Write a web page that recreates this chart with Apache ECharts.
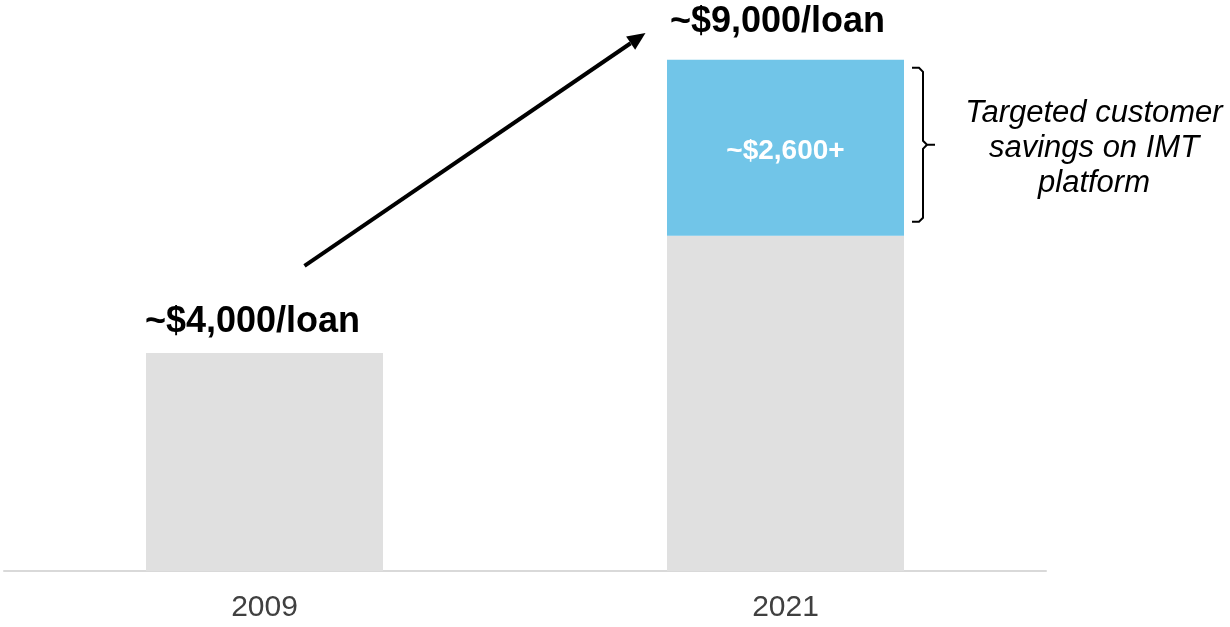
<!DOCTYPE html>
<html>
<head>
<meta charset="utf-8">
<script src="https://cdn.jsdelivr.net/npm/echarts@6/dist/echarts.min.js"></script>
<style>
html, body { margin: 0; padding: 0; background: #fff; }
#chart { width: 1230px; height: 627px; }
</style>
</head>
<body>
<div id="chart"></div>
<script>
// data (bars are not drawn to scale in the original)
var years = ['2009', '2021'];
var baseValues = [4000, 6150];
var savingsValues = [null, 3230];
var topLabels = ['~$4,000/loan', '~$9,000/loan'];
var savingsLabel = '~$2,600+';
var noteLines = ['Targeted customer', 'savings on IMT', 'platform'];

var FONT = '"Liberation Sans", Arial, sans-serif';
var chart = echarts.init(document.getElementById('chart'));

var totals = baseValues.map(function (v, i) { return v + (savingsValues[i] || 0); });
var labelDist = [13, 20];
var labelDx = [-12, -8];

// invisible bars the height of each stack, only used to carry the top labels
var totalData = totals.map(function (v, i) {
  return {
    value: v,
    label: { distance: labelDist[i], offset: [labelDx[i], 0], formatter: topLabels[i] }
  };
});

chart.setOption({
  animation: false,
  grid: { left: 4, right: 184, top: 26, bottom: 56 },
  xAxis: {
    type: 'category',
    data: years,
    axisTick: { show: false },
    axisLine: { lineStyle: { color: '#d9d9d9', width: 2 } },
    axisLabel: {
      margin: 22,
      color: '#404040',
      fontFamily: FONT,
      fontSize: 30
    }
  },
  yAxis: {
    type: 'value',
    min: 0,
    max: 10000,
    show: false,
    splitLine: { show: false }
  },
  series: [
    {
      name: 'base',
      type: 'bar',
      stack: 'total',
      barWidth: 237,
      itemStyle: { color: '#e0e0e0' },
      data: baseValues
    },
    {
      name: 'savings',
      type: 'bar',
      stack: 'total',
      barWidth: 237,
      itemStyle: { color: '#71c5e8' },
      label: {
        show: true,
        position: 'inside',
        offset: [0, 3],
        formatter: savingsLabel,
        color: '#fff',
        fontFamily: FONT,
        fontWeight: 'bold',
        fontSize: 28
      },
      data: savingsValues
    },
    {
      name: 'total',
      type: 'bar',
      barWidth: 237,
      barGap: '-100%',
      silent: true,
      itemStyle: { color: 'rgba(0,0,0,0)' },
      label: {
        show: true,
        position: 'top',
        color: '#000',
        fontFamily: FONT,
        fontWeight: 'bold',
        fontSize: 36
      },
      data: totalData
    }
  ]
});

// annotations placed from the axes
function px(cat, val) {
  return chart.convertToPixel({ xAxisIndex: 0, yAxisIndex: 0 }, [cat, val]);
}

var p0 = px(0, 5600);
var p1 = px(1, 9870);
var x0 = p0[0] + 40, y0 = p0[1];
var x1 = p1[0] - 140, y1 = p1[1];
var ang = Math.atan2(y1 - y0, x1 - x0);
var headLen = 18, headW = 8;
var hx = x1 - headLen * Math.cos(ang), hy = y1 - headLen * Math.sin(ang);
var nx = -Math.sin(ang) * headW, ny = Math.cos(ang) * headW;

// curly bracket next to the savings segment
var bTop = px(1, totals[1])[1] + 8;
var bBot = px(1, baseValues[1])[1] - 14;
var bMid = (bTop + bBot) / 2;
var bx0 = px(1, 0)[0] + 237 / 2 + 8;
var bx1 = bx0 + 11;
var r = 4;

chart.setOption({
  graphic: [
    {
      type: 'line',
      shape: { x1: x0, y1: y0, x2: hx, y2: hy },
      style: { stroke: '#000', lineWidth: 4 }
    },
    {
      type: 'polygon',
      shape: { points: [[x1, y1], [hx + nx, hy + ny], [hx - nx, hy - ny]] },
      style: { fill: '#000' }
    },
    {
      type: 'polyline',
      shape: {
        points: [
          [bx0, bTop], [bx1 - r, bTop], [bx1, bTop + r],
          [bx1, bMid - r], [bx1 + r, bMid], [bx1 + 12, bMid]
        ]
      },
      style: { stroke: '#000', lineWidth: 2, fill: null }
    },
    {
      type: 'polyline',
      shape: {
        points: [
          [bx1 + r, bMid], [bx1, bMid + r],
          [bx1, bBot - r], [bx1 - r, bBot], [bx0, bBot]
        ]
      },
      style: { stroke: '#000', lineWidth: 2, fill: null }
    },
    {
      type: 'text',
      x: bx1 + 171,
      y: bMid + 4,
      style: {
        text: noteLines.join('\n'),
        align: 'center',
        verticalAlign: 'middle',
        lineHeight: 35,
        fontFamily: FONT,
        fontStyle: 'italic',
        fontSize: 31,
        fill: '#000'
      }
    }
  ]
});
</script>
</body>
</html>
